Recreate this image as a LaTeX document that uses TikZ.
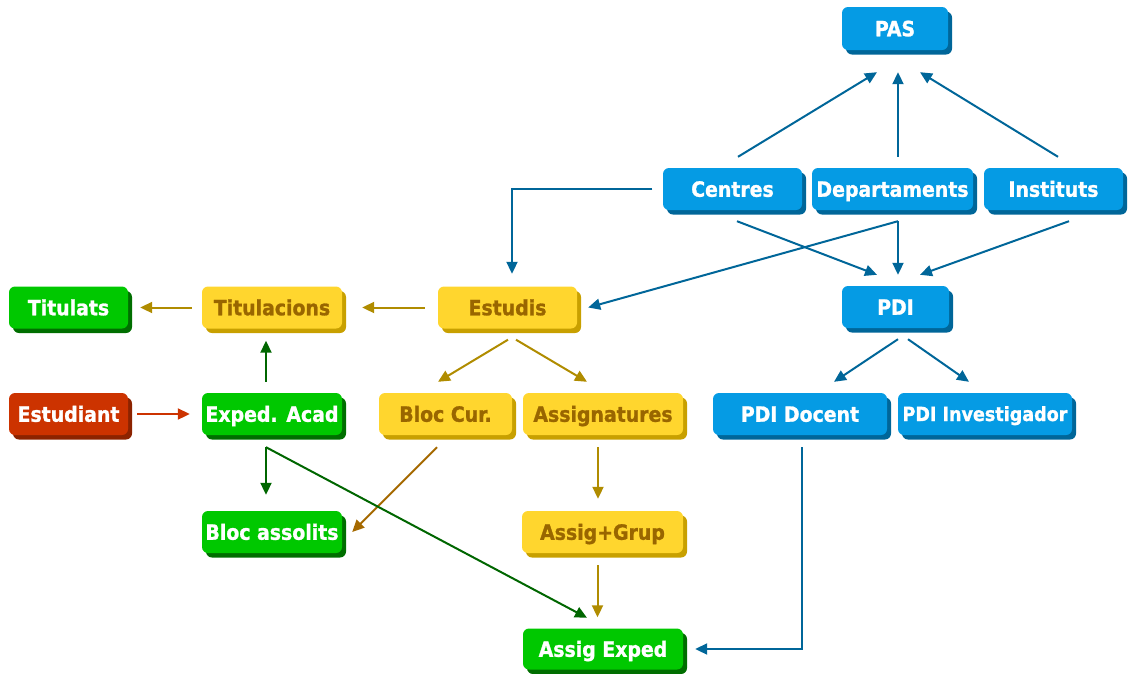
\documentclass[tikz,border=0pt]{standalone}
\usepackage{fontspec}
\setmainfont{DejaVu Sans Condensed}[BoldFeatures={FakeBold=1.2}]
\usetikzlibrary{arrows.meta,shadows}
\definecolor{bface}{RGB}{5,155,228}
\definecolor{bshad}{RGB}{0,102,153}
\definecolor{gface}{RGB}{0,200,0}
\definecolor{gshad}{RGB}{0,110,0}
\definecolor{yface}{RGB}{255,214,46}
\definecolor{yshad}{RGB}{200,160,0}
\definecolor{ytext}{RGB}{153,102,0}
\definecolor{rface}{RGB}{204,51,0}
\definecolor{rshad}{RGB}{140,35,0}
\definecolor{barrowc}{RGB}{0,102,153}
\definecolor{garrowc}{RGB}{0,102,0}
\definecolor{yarrowc}{RGB}{176,140,0}
\definecolor{rarrowc}{RGB}{204,51,0}
\definecolor{oarrowc}{RGB}{165,105,0}
\begin{document}
\begin{tikzpicture}[x=1pt,y=-1pt,
  box/.style={rounded corners=6pt, minimum height=42pt, inner sep=0pt,
    text height=15.5pt, text depth=0pt,
    font=\bfseries\fontsize{21}{25}\selectfont},
  bluebox/.style={box, fill=bface, text=white,
    drop shadow={shadow xshift=4pt,shadow yshift=-4.5pt,fill=bshad,opacity=1}},
  greenbox/.style={box, fill=gface, text=white,
    drop shadow={shadow xshift=4pt,shadow yshift=-4.5pt,fill=gshad,opacity=1}},
  yellowbox/.style={box, fill=yface, text=ytext,
    drop shadow={shadow xshift=4pt,shadow yshift=-4.5pt,fill=yshad,opacity=1}},
  redbox/.style={box, fill=rface, text=white,
    drop shadow={shadow xshift=4pt,shadow yshift=-4.5pt,fill=rshad,opacity=1}},
  conn/.style={line width=2pt, -{Triangle[length=12pt,width=11pt]}},
  bconn/.style={conn, draw=barrowc},
  gconn/.style={conn, draw=garrowc},
  yconn/.style={conn, draw=yarrowc},
  rconn/.style={conn, draw=rarrowc},
  oconn/.style={conn, draw=oarrowc}]
\useasboundingbox (0,0) rectangle (1128,673);

% blue nodes
\node[bluebox, minimum width=106pt, minimum height=43pt] (PAS) at (895,28.5) {PAS};
\node[bluebox, minimum width=139pt] (Centres) at (732.5,189) {Centres};
\node[bluebox, minimum width=161pt] (Dep) at (892.5,189) {Departaments};
\node[bluebox, minimum width=139pt] (Inst) at (1053.5,189) {Instituts};
\node[bluebox, minimum width=107pt] (PDI) at (895.5,307) {PDI};
\node[bluebox, minimum width=174pt] (PDIdoc) at (800,414) {PDI Docent};
\node[bluebox, minimum width=174pt, text height=14pt, font=\bfseries\fontsize{19.5}{23}\selectfont] (PDIinv) at (985,414) {PDI Investigador};

% yellow nodes
\node[yellowbox, minimum width=139pt] (Estudis) at (507.5,307.5) {Estudis};
\node[yellowbox, minimum width=140pt] (Titulacions) at (272,307.5) {Titulacions};
\node[yellowbox, minimum width=133pt] (BlocCur) at (445.5,414) {Bloc Cur.};
\node[yellowbox, minimum width=160pt] (Assign) at (603,414) {Assignatures};
\node[yellowbox, minimum width=161pt] (AssigGrup) at (602.5,532) {Assig+Grup};

% green nodes
\node[greenbox, minimum width=119pt] (Titulats) at (68.5,307.5) {Titulats};
\node[greenbox, minimum width=140pt] (Exped) at (272,414) {Exped. Acad};
\node[greenbox, minimum width=140pt] (BlocAss) at (272,532) {Bloc assolits};
\node[greenbox, minimum width=160pt, minimum height=41pt] (AssigExped) at (603,649) {Assig Exped};

% red node
\node[redbox, minimum width=119pt] (Estudiant) at (68.5,414) {Estudiant};

% blue connectors
\draw[bconn] ([shift={(5.5,-11)}]Centres.north) -- ([shift={(-18,22)}]PAS.south);
\draw[bconn] ([shift={(5.5,-11)}]Dep.north) -- ([shift={(3,22)}]PAS.south);
\draw[bconn] ([shift={(4.5,-11)}]Inst.north) -- ([shift={(25,22)}]PAS.south);
\draw[bconn] ([xshift=-10.5pt]Centres.west) -| ([shift={(4.5,-12.5)}]Estudis.north);
\draw[bconn] ([shift={(5.5,11)}]Dep.south) -- ([xshift=11pt]Estudis.east);
\draw[bconn] ([shift={(5.5,11)}]Dep.south) -- ([shift={(2.5,-11)}]PDI.north);
\draw[bconn] ([shift={(4.5,11)}]Centres.south) -- ([shift={(-18.5,-11)}]PDI.north);
\draw[bconn] ([shift={(15.5,11)}]Inst.south) -- ([shift={(24.5,-11)}]PDI.north);
\draw[bconn] ([shift={(2.5,11)}]PDI.south) -- ([shift={(34,-11)}]PDIdoc.north);
\draw[bconn] ([shift={(12.5,11)}]PDI.south) -- ([shift={(-16,-11)}]PDIinv.north);
\draw[bconn] ([shift={(2,12)}]PDIdoc.south) |- ([xshift=12pt]AssigExped.east);

% yellow connectors
\draw[yconn] ([xshift=-13pt]Estudis.west) -- ([xshift=20pt]Titulacions.east);
\draw[yconn] ([xshift=-10pt]Titulacions.west) -- ([xshift=12pt]Titulats.east);
\draw[yconn] ([shift={(0.5,11)}]Estudis.south) -- ([shift={(-7.5,-11)}]BlocCur.north);
\draw[yconn] ([shift={(8.5,11)}]Estudis.south) -- ([shift={(-16,-11)}]Assign.north);
\draw[yconn] ([shift={(-5,12)}]Assign.south) -- ([shift={(-4.5,-12)}]AssigGrup.north);
\draw[yconn] ([shift={(-5,12)}]AssigGrup.south) -- ([shift={(-5.5,-11)}]AssigExped.north);
\draw[oconn] ([shift={(-8.5,12)}]BlocCur.south) -- ([xshift=10pt]BlocAss.east);

% green connectors
\draw[gconn] ([shift={(-6,-11)}]Exped.north) -- ([shift={(-6,12)}]Titulacions.south);
\draw[gconn] ([shift={(-6,12)}]Exped.south) -- ([shift={(-6,-16)}]BlocAss.north);
\draw[gconn] ([shift={(-6,12)}]Exped.south) -- ([shift={(-16,-10.5)}]AssigExped.north);

% red connector
\draw[rconn] ([xshift=9pt]Estudiant.east) -- ([xshift=-12pt]Exped.west);
\end{tikzpicture}
\end{document}
